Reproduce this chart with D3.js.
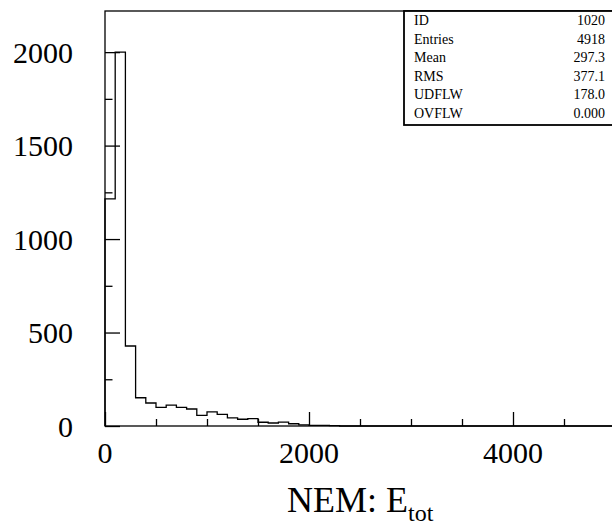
<!DOCTYPE html>
<html>
<head>
<meta charset="utf-8">
<script src="https://cdn.jsdelivr.net/npm/d3@7"></script>
<style>
html,body{margin:0;padding:0;background:#fff;}
svg{display:block;}
text{font-family:"Liberation Serif","Times New Roman",serif;fill:#000;}
</style>
</head>
<body>
<svg id="chart" width="612" height="529"></svg>
<script>
// ---- data ----
const binWidth = 100;
const binStarts = [0,100,200,300,400,500,600,700,800,900,1000,1100,1200,1300,1400,1500,1600,1700,1800,1900,
  2000,2100,2200,2300,2400,2500,2600,2700,2800,2900,3000,3100,3200,3300,3400,3500,3600,3700,3800,3900,
  4000,4100,4200,4300,4400,4500,4600,4700,4800,4900];
const counts = [1215,2000,428,151,123,100,112,100,91,57,76,62,43,36,39,20,16,21,12,6,
  3,3,2,0,0,0,0,0,0,0,0,0,0,0,0,0,0,0,0,0,
  0,0,0,0,0,0,0,0,0,0];
const xTickValues = [0,2000,4000];
const xMinorTicks = [500,1000,1500,2500,3000,3500,4500];
const yTickValues = [0,500,1000,1500,2000];
const yMinorTicks = [250,750,1250,1750];
const statLabels = ["ID","Entries","Mean","RMS","UDFLW","OVFLW"];
const statValues = ["1020","4918","297.3","377.1","178.0","0.000"];

// ---- layout ----
const svg = d3.select("#chart");
const x = d3.scaleLinear().domain([0,5000]).range([105,615]);
const y = d3.scaleLinear().domain([0,2220]).range([426,11]);

// histogram outline
const pts = [[0,0]];
binStarts.forEach((b,i)=>{ pts.push([b,counts[i]]); pts.push([b+binWidth,counts[i]]); });
pts.push([5000,0]);
const line = d3.line().x(d=>x(d[0])).y(d=>y(d[1]));
svg.append("path").attr("d", line(pts)).attr("fill","none").attr("stroke","#000").attr("stroke-width",1.3);

// frame
const fr = svg.append("g").attr("stroke","#000").attr("fill","none");
fr.append("rect").attr("x",x(0)).attr("y",y(2220)).attr("width",x(5000)-x(0)).attr("height",y(0)-y(2220)).attr("stroke-width",1.3);

// y axis ticks
const yAxis = d3.axisRight(y).tickValues(yTickValues).tickSize(15).tickFormat("");
svg.append("g").attr("transform",`translate(${x(0)},0)`).call(yAxis).call(g=>{g.select(".domain").remove();g.selectAll("line").attr("stroke-width",1.3);});
const yAxisMinor = d3.axisRight(y).tickValues(yMinorTicks).tickSize(7.5).tickFormat("");
svg.append("g").attr("transform",`translate(${x(0)},0)`).call(yAxisMinor).call(g=>{g.select(".domain").remove();g.selectAll("line").attr("stroke-width",1.3);});
// y labels
svg.append("g").selectAll("text").data(yTickValues).join("text")
  .attr("x",73).attr("y",d=>y(d)).attr("dy","0.35em").attr("text-anchor","end")
  .attr("font-size",30).text(d=>d);

// x axis ticks
const xAxis = d3.axisTop(x).tickValues(xTickValues).tickSize(14).tickFormat("");
svg.append("g").attr("transform",`translate(0,${y(0)})`).call(xAxis).call(g=>{g.select(".domain").remove();g.selectAll("line").attr("stroke-width",1.3);});
const xAxisMinor = d3.axisTop(x).tickValues(xMinorTicks).tickSize(7).tickFormat("");
svg.append("g").attr("transform",`translate(0,${y(0)})`).call(xAxisMinor).call(g=>{g.select(".domain").remove();g.selectAll("line").attr("stroke-width",1.3);});
svg.append("g").selectAll("text").data(xTickValues).join("text")
  .attr("x",d=>x(d)).attr("y",463).attr("text-anchor","middle")
  .attr("font-size",30).text(d=>d);

// x title
const t = svg.append("text").attr("x",287).attr("y",512).attr("font-size",36);
t.append("tspan").text("NEM: E");
t.append("tspan").attr("font-size",24).attr("dy",9).text("tot");

// stats box
const bx = 404, by = 11, bw = 212, rowH = 18.5;
svg.append("rect").attr("x",bx).attr("y",by).attr("width",bw).attr("height",rowH*6+3)
  .attr("fill","#fff").attr("stroke","#000").attr("stroke-width",1.8);
const sg = svg.append("g");
statLabels.forEach((l,i)=>{
  sg.append("text").attr("x",414).attr("y",by+9.5+rowH*i).attr("dy","0.35em").attr("font-size",14).text(l);
  sg.append("text").attr("x",605).attr("y",by+9.5+rowH*i).attr("dy","0.35em").attr("text-anchor","end").attr("font-size",14).text(statValues[i]);
});
</script>
</body>
</html>
